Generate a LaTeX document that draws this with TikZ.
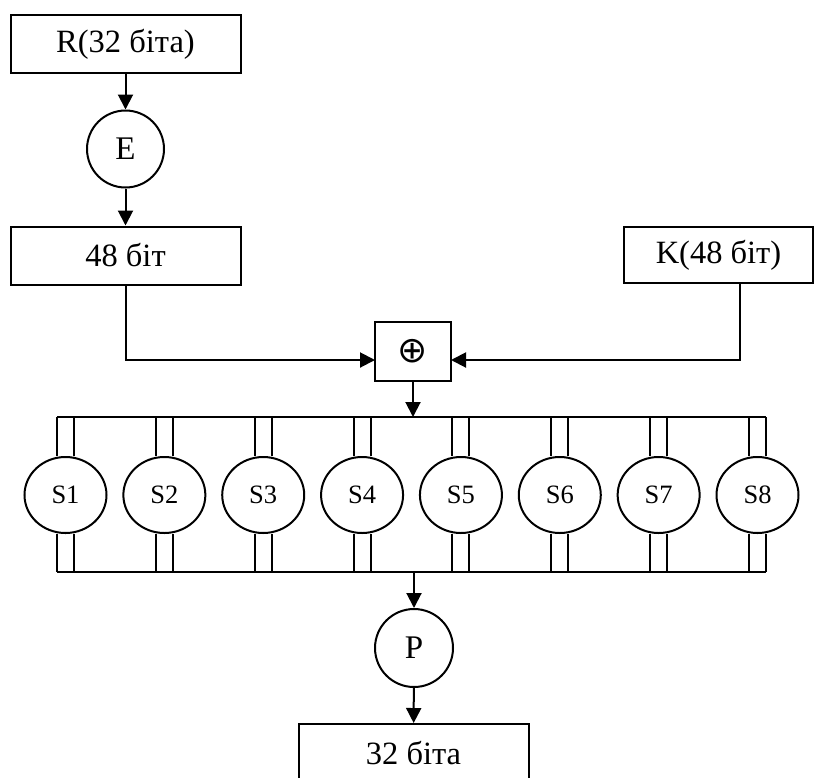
\documentclass[tikz,border=0pt]{standalone}
\usepackage{fontspec}
\setmainfont{Liberation Serif}
\newfontfamily\symfnt{DejaVu Sans}
\usetikzlibrary{arrows.meta,shapes.geometric,calc}
\begin{document}
\begin{tikzpicture}[x=1pt,y=-1pt,line width=2pt,
  arr/.style={-{Triangle[length=15pt,width=15pt]}},
  blk/.style={draw,rectangle,inner sep=0pt,minimum width=230pt,minimum height=58pt,font=\fontsize{32.5}{38}\selectfont},
  rnd/.style={draw,circle,inner sep=0pt,minimum size=77pt,font=\fontsize{33}{38}\selectfont},
  sbox/.style={draw,ellipse,inner sep=0pt,minimum width=82pt,minimum height=76pt,font=\fontsize{26.5}{32}\selectfont}]
\useasboundingbox (0,0) rectangle (824,777);
\node[blk] (R) at (125.5,44) {R(32 біта)};
\node[rnd] (E) at (125.5,149) {E};
\node[blk] (B) at (125.5,255.5) {48 біт};
\node[blk,minimum width=189pt,minimum height=56pt] (K) at (718.5,255) {K(48 біт)};
\node[draw,rectangle,inner sep=0pt,minimum width=76pt,minimum height=59pt,font=\fontsize{36}{40}\symfnt] (X) at (413,351.5) {⊕};
\coordinate (Kout) at (740,283);
\coordinate (Xin) at (375,360);
\coordinate (Xin2) at (451,360);
\foreach \i in {1,...,8} {
  \node[sbox] (S\i) at ({65.5+98.857*(\i-1)},495) {S\i};
}
\coordinate (TL) at (57,417);
\coordinate (TR) at (766,417);
\coordinate (BL) at (57,572);
\coordinate (BR) at (766,572);
\node[rnd,minimum size=78pt] (P) at (414,648) {P};
\node[blk] (O) at (413.5,753) {32 біта};
\draw[arr] (R) -- (E);
\draw[arr] (E) -- (B);
\draw[arr] (B.south) |- (Xin);
\draw[arr] (Kout) |- (Xin2);
\draw (TL) -- (TR);
\draw (BL) -- (BR);
\draw[arr] (X.south) -- (X.south |- TL);
\foreach \i in {1,...,8} {
  \draw ($(S\i.north)+(-8.5,0)$) -- ($(S\i.north |- TL)+(-8.5,0)$);
  \draw ($(S\i.north)+(8.5,0)$) -- ($(S\i.north |- TL)+(8.5,0)$);
  \draw ($(S\i.south)+(-8.5,0)$) -- ($(S\i.south |- BL)+(-8.5,0)$);
  \draw ($(S\i.south)+(8.5,0)$) -- ($(S\i.south |- BL)+(8.5,0)$);
}
\draw[arr] (P.north |- BL) -- (P.north);
\draw[arr] (P) -- (O);
\end{tikzpicture}
\end{document}
